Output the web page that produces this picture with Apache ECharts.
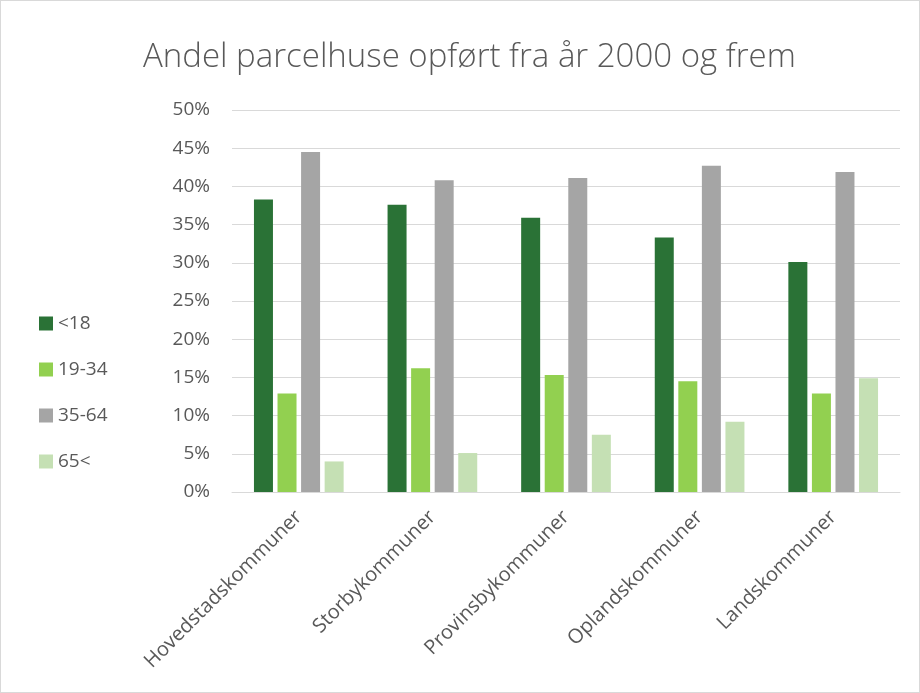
<!DOCTYPE html>
<html>
<head>
<meta charset="utf-8">
<script src="https://cdn.jsdelivr.net/npm/echarts@6/dist/echarts.min.js"></script>
<style>
  html, body { margin: 0; padding: 0; background: #fff; }
  #container { width: 920px; height: 693px; box-sizing: border-box; border: 1px solid #D9D9D9; }
</style>
</head>
<body>
<div id="container"></div>
<script>
// kategorier (kommunetyper)
var categories = ['Hovedstadskommuner', 'Storbykommuner', 'Provinsbykommuner', 'Oplandskommuner', 'Landskommuner'];
// aldersgrupper
var groups = ['<18', '19-34', '35-64', '65<'];
// andele i procent
var under18 = [38.3, 37.6, 35.9, 33.3, 30.1];
var age19to34 = [12.9, 16.2, 15.3, 14.5, 12.9];
var age35to64 = [44.5, 40.8, 41.1, 42.7, 41.9];
var over65 = [4.0, 5.1, 7.5, 9.2, 14.9];
var yTicks = [0, 5, 10, 15, 20, 25, 30, 35, 40, 45, 50];

var dom = document.getElementById('container');
var myChart = echarts.init(dom);
var font = '"Open Sans", sans-serif';
var txt = '#595959';

var seriesData = [under18, age19to34, age35to64, over65];
var colors = ['#2A7236', '#92D050', '#A5A5A5', '#C5E0B4'];

var option = {
  animation: false,
  color: colors,
  title: {
    text: 'Andel parcelhuse opført fra år 2000 og frem',
    left: 137,
    top: 35,
    textStyle: {
      fontFamily: font,
      fontWeight: 300,
      fontSize: 33,
      color: txt
    }
  },
  legend: {
    orient: 'vertical',
    left: 38,
    top: 313,
    padding: 0,
    itemWidth: 14,
    itemHeight: 14,
    itemGap: 27,
    icon: 'rect',
    textStyle: { fontFamily: font, fontSize: 19, lineHeight: 14, color: txt },
    data: groups
  },
  grid: {
    left: 231,
    right: 19,
    top: 109,
    bottom: 200,
    containLabel: false
  },
  xAxis: {
    type: 'category',
    data: categories,
    axisLine: { lineStyle: { color: '#D9D9D9', width: 1 } },
    axisTick: { show: false },
    axisLabel: {
      rotate: 45,
      margin: 22,
      fontFamily: font,
      fontSize: 20,
      color: txt
    }
  },
  yAxis: {
    type: 'value',
    min: yTicks[0],
    max: yTicks[yTicks.length - 1],
    interval: 5,
    axisLine: { show: false },
    axisTick: { show: false },
    splitLine: { lineStyle: { color: '#D9D9D9', width: 1 } },
    axisLabel: {
      formatter: '{value}%',
      margin: 22,
      fontFamily: font,
      fontSize: 19,
      color: txt
    }
  },
  series: groups.map(function(name, i) {
    return {
      name: name,
      type: 'bar',
      data: seriesData[i],
      barWidth: 19,
      barGap: '24%',
      itemStyle: { color: colors[i] }
    };
  })
};
myChart.setOption(option);
</script>
</body>
</html>
